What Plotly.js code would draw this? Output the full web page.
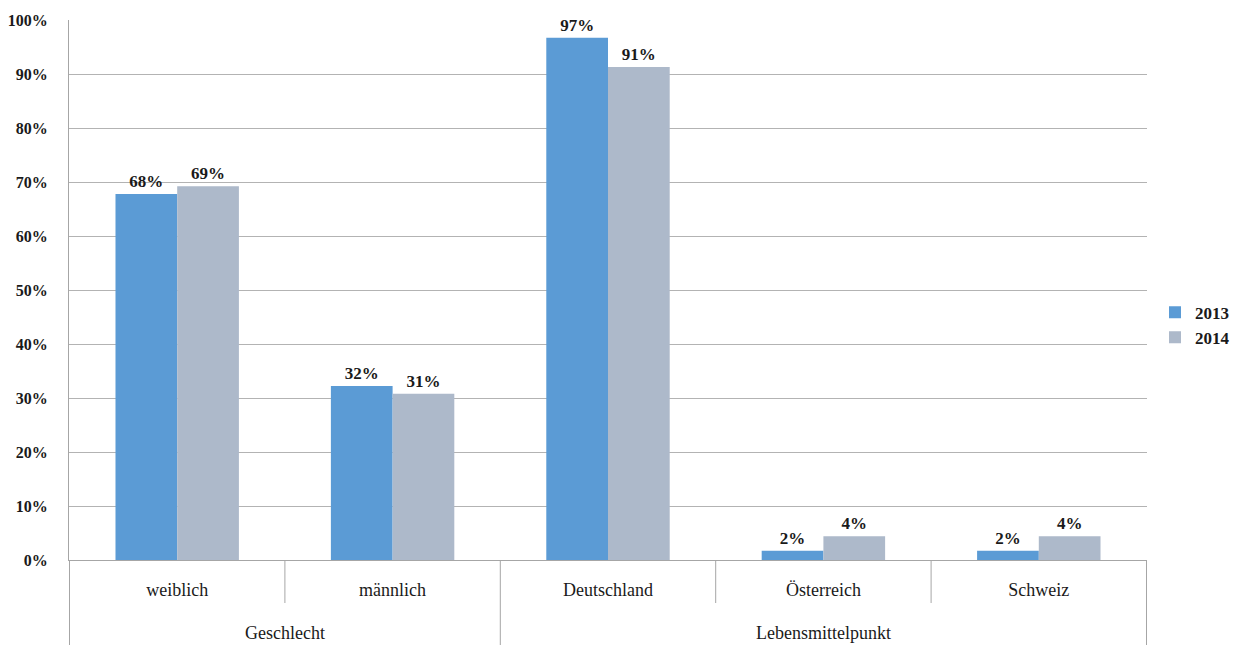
<!DOCTYPE html>
<html>
<head>
<meta charset="utf-8">
<script src="https://cdn.plot.ly/plotly-3.0.1.min.js"></script>
<style>html,body{margin:0;padding:0;background:#fff}#chart{width:1239px;height:645px}</style>
</head>
<body>
<div id="chart"></div>
<script>
const groups = ["Geschlecht", "Geschlecht", "Lebensmittelpunkt", "Lebensmittelpunkt", "Lebensmittelpunkt"];
const categories = ["weiblich", "männlich", "Deutschland", "Österreich", "Schweiz"];
const values2013 = [67.8, 32.2, 96.7, 1.7, 1.7];
const values2014 = [69.2, 30.8, 91.3, 4.4, 4.4];
const labels2013 = ["68%", "32%", "97%", "2%", "2%"];
const labels2014 = ["69%", "31%", "91%", "4%", "4%"];

const serif = "Liberation Serif, Times New Roman, serif";
const textFont = {family: serif, size: 17, color: "#1a1a1a", weight: "bold"};
const lineColor = "#a6a6a6";

const traces = [
  {type: "bar", name: "2013", x: categories, y: values2013,
   text: labels2013, textposition: "outside", texttemplate: "%{text}", cliponaxis: false,
   textfont: textFont, marker: {color: "#5b9bd5"}, hoverinfo: "skip"},
  {type: "bar", name: "2014", x: categories, y: values2014,
   text: labels2014, textposition: "outside", texttemplate: "%{text}", cliponaxis: false,
   textfont: textFont, marker: {color: "#adb9ca"}, hoverinfo: "skip"}
];

// separators and group labels derived from the category/group arrays
const shapes = [];
const annotations = [];
const innerDepth = -43 / 540, outerDepth = -86 / 540;
for (let i = 0; i <= categories.length; i++) {
  const isGroupEdge = i === 0 || i === categories.length || groups[i] !== groups[i - 1];
  shapes.push({type: "line", xref: "x", yref: "paper", x0: i - 0.5, x1: i - 0.5,
    y0: 0, y1: isGroupEdge ? outerDepth : innerDepth,
    line: {color: lineColor, width: 1}});
}
const uniqueGroups = [...new Set(groups)];
uniqueGroups.forEach(g => {
  const idx = groups.map((v, i) => v === g ? i : -1).filter(i => i >= 0);
  const mid = (idx[0] + idx[idx.length - 1]) / 2;
  annotations.push({text: g, xref: "x", yref: "paper", x: mid, y: -73 / 540,
    xanchor: "center", yanchor: "middle", showarrow: false,
    font: {family: serif, size: 18, color: "#1a1a1a"}});
});

const layout = {
  width: 1239, height: 645,
  margin: {l: 69, r: 92, t: 20, b: 85},
  paper_bgcolor: "#fff", plot_bgcolor: "#fff",
  barmode: "group", bargap: 0.427, bargroupgap: 0,
  font: {family: serif, color: "#1a1a1a"},
  xaxis: {
    type: "category", automargin: false,
    showline: true, linecolor: lineColor, linewidth: 1,
    ticks: "", ticklabelstandoff: 13,
    tickfont: {family: serif, size: 18, color: "#1a1a1a"},
    showgrid: false, zeroline: false
  },
  yaxis: {
    range: [0, 100], dtick: 10, ticksuffix: "%", automargin: false,
    showgrid: true, gridcolor: "#b3b3b3", gridwidth: 1,
    showline: true, linecolor: lineColor, linewidth: 1,
    zeroline: false, ticks: "", ticklabelstandoff: 17,
    tickfont: {family: serif, size: 16, color: "#1a1a1a", weight: "bold"}
  },
  shapes: shapes,
  annotations: annotations,
  showlegend: true,
  legend: {xref: "container", yref: "paper", x: 1155 / 1239, xanchor: "left", y: 0.435, yanchor: "middle",
    font: {family: serif, size: 17, color: "#1a1a1a", weight: "bold"},
    tracegroupgap: 10, itemwidth: 30, traceorder: "normal"}
};

Plotly.newPlot("chart", traces, layout, {displayModeBar: false, staticPlot: true});
</script>
</body>
</html>
